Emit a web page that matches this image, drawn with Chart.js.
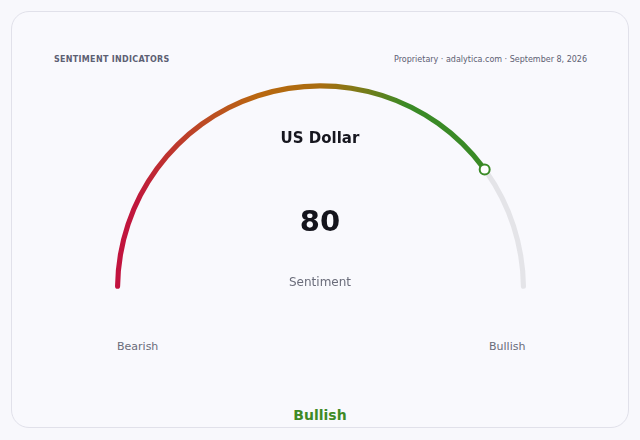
<!DOCTYPE html>
<html lang="en">
<head>
  <meta charset="UTF-8">
  <title>Sentiment Indicators</title>
  <script src="https://cdn.jsdelivr.net/npm/chart.js"></script>
  <style>
    * {
      margin: 0;
      padding: 0;
      box-sizing: border-box;
      font-family: 'DejaVu Sans', sans-serif;
    }

    body {
      width: 640px;
      height: 440px;
      background: #f8f8fc;
      position: relative;
      overflow: hidden;
    }

    .card {
      position: absolute;
      left: 11px;
      top: 11px;
      width: 618px;
      height: 417px;
      border: 1px solid #e1e1ea;
      border-radius: 18px;
      background: #f9f9fd;
    }

    .head-left {
      position: absolute;
      left: 54px;
      top: 55px;
      font-size: 8px;
      font-weight: bold;
      letter-spacing: 0.3px;
      color: #5d6073;
    }

    .head-right {
      position: absolute;
      right: 53px;
      top: 55px;
      font-size: 8px;
      color: #5d6073;
    }

    .gauge-box {
      position: absolute;
      left: 114.5px;
      top: 82.5px;
      width: 411px;
      height: 206px;
    }

    .txt {
      position: absolute;
      left: 0;
      width: 640px;
      text-align: center;
    }

    .title { top: 129px; font-size: 15px; font-weight: bold; color: #17171f; }
    .value { top: 204px; font-size: 29px; font-weight: bold; color: #14141c; }
    .label { top: 275px; font-size: 12px; color: #6a6c7a; }
    .verdict { top: 407px; font-size: 14px; font-weight: bold; color: #3f8a25; }

    .end {
      position: absolute;
      top: 340px;
      font-size: 11px;
      color: #6a6c7a;
    }
  </style>
</head>
<body>
  <div class="card"></div>
  <div class="head-left">SENTIMENT INDICATORS</div>
  <div class="head-right">Proprietary · adalytica.com · September 8, 2026</div>

  <div class="gauge-box"><canvas id="gauge"></canvas></div>

  <div class="txt title">US Dollar</div>
  <div class="txt value" id="valueText"></div>
  <div class="txt label">Sentiment</div>
  <div class="end" style="left:117px">Bearish</div>
  <div class="end" style="left:489px">Bullish</div>
  <div class="txt verdict">Bullish</div>

  <script>
    // gauge data
    const scaleMin = 0;
    const scaleMax = 100;
    const sentiment = 80;
    const segmentNames = ['Sentiment', 'Remaining'];

    document.getElementById('valueText').textContent = sentiment;

    const trackColor = '#e4e4e8';
    const markerColor = '#3a8a26';

    // conic gradient along the value arc, set once the arc has its geometry
    const gradientPlugin = {
      id: 'arcGradient',
      beforeDatasetsDraw(chart) {
        const arc = chart.getDatasetMeta(0).data[0];
        if (!arc || !chart.ctx.createConicGradient) return;
        const g = chart.ctx.createConicGradient(Math.PI, arc.x, arc.y);
        g.addColorStop(0, '#c2123f');
        g.addColorStop(0.07, '#c0173c');
        g.addColorStop(0.16, '#bc4f22');
        g.addColorStop(0.2, '#b9670f');
        g.addColorStop(0.25, '#a96d10');
        g.addColorStop(0.28, '#7e7a18');
        g.addColorStop(0.32, markerColor);
        g.addColorStop(1, markerColor);
        arc.options.backgroundColor = g;
      }
    };

    // white ring marker on the end of the value arc
    const markerPlugin = {
      id: 'marker',
      afterDatasetsDraw(chart) {
        const arc = chart.getDatasetMeta(0).data[0];
        const r = (arc.outerRadius + arc.innerRadius) / 2;
        const x = arc.x + Math.cos(arc.endAngle) * r;
        const y = arc.y + Math.sin(arc.endAngle) * r;
        const ctx = chart.ctx;
        ctx.save();
        ctx.beginPath();
        ctx.arc(x, y, 5, 0, Math.PI * 2);
        ctx.fillStyle = '#ffffff';
        ctx.fill();
        ctx.lineWidth = 2;
        ctx.strokeStyle = markerColor;
        ctx.stroke();
        ctx.restore();
      }
    };

    new Chart(document.getElementById('gauge'), {
      type: 'doughnut',
      data: {
        labels: segmentNames,
        datasets: [{
          data: [sentiment - scaleMin, scaleMax - sentiment],
          backgroundColor: ['#b3680f', trackColor],
          borderWidth: 0,
          borderRadius: 3
        }]
      },
      options: {
        responsive: true,
        maintainAspectRatio: false,
        animation: false,
        rotation: -90,
        circumference: 180,
        cutout: '97.5%',
        plugins: {
          legend: { display: false },
          tooltip: { enabled: false }
        }
      },
      plugins: [gradientPlugin, markerPlugin]
    });
  </script>
</body>
</html>
